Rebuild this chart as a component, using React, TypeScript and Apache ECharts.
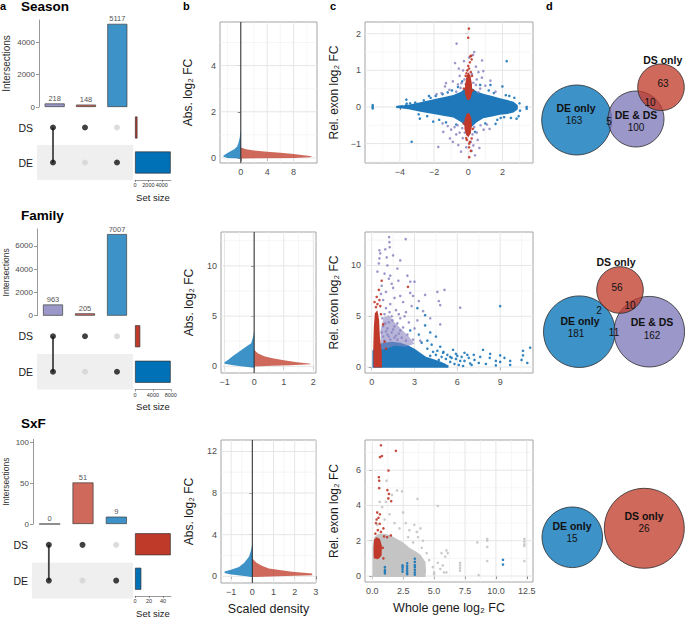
import React, { useEffect, useRef } from "react";
import * as echarts from "echarts";

/* ================= DATA ================= */
const intersectionNames = ["DE & DS", "DS only", "DE only"];
const setNames = ["DE", "DS"];
const inDE = [1, 0, 1];
const inDS = [1, 1, 0];

const seasonIntersections = [218, 148, 5117];
const familyIntersections = [963, 205, 7007];
const sxfIntersections = [0, 51, 9];

const seasonIntersectionTicks = [0, 2000, 4000];
const familyIntersectionTicks = [0, 2000, 4000, 6000];
const sxfIntersectionTicks = [0, 50, 100];
const seasonSetSizeTicks = [0, 2000, 4000];
const familySetSizeTicks = [0, 4000, 8000];
const sxfSetSizeTicks = [0, 20, 40];

/* density: abs log2 FC (y) and scaled density width (x) */
const seasonDensDE_y = [-0.03, 0.0, 0.05, 0.09, 0.18, 0.28, 0.38, 0.5, 0.7, 0.85, 1.0, 1.2];
const seasonDensDE_w = [0, 2.0, 2.6, 2.65, 2.2, 1.63, 1.0, 0.55, 0.3, 0.18, 0.1, 0];
const seasonDensDS_y = [-0.02, 0.0, 0.03, 0.07, 0.12, 0.17, 0.22, 0.27, 0.32, 0.38, 0.45];
const seasonDensDS_w = [0, 8, 10.5, 10.8, 9.5, 8, 6, 4, 2, 0.8, 0];
const familyDensDE_y = [-0.15, -0.05, 0.1, 0.25, 0.4, 0.7, 1.0, 1.5, 2.0, 2.3, 3.0, 3.6];
const familyDensDE_w = [0, 0.29, 0.71, 1.0, 1.0, 0.85, 0.73, 0.49, 0.25, 0.1, 0.03, 0];
const familyDensDS_y = [-0.02, 0.05, 0.12, 0.2, 0.27, 0.4, 0.6, 0.8, 1.0, 1.3, 1.65];
const familyDensDS_w = [0, 0.6, 1.22, 1.91, 1.91, 1.45, 1.0, 0.62, 0.34, 0.12, 0];
const sxfDensDE_y = [-0.07, 0.0, 0.1, 0.2, 0.3, 0.45, 0.6, 0.9, 1.3, 1.87, 2.5, 3.15];
const sxfDensDE_w = [0, 0.28, 0.67, 1.07, 1.31, 1.31, 1.05, 0.63, 0.38, 0.16, 0.06, 0];
const sxfDensDS_y = [-0.07, 0.0, 0.05, 0.1, 0.18, 0.26, 0.42, 0.74, 1.0, 1.3, 1.7];
const sxfDensDS_w = [0, 1.2, 2.0, 2.83, 2.83, 2.83, 1.88, 0.78, 0.45, 0.2, 0];

const seasonDensXTicks = [0, 4, 8];
const seasonDensXMinor = [-2, 2, 6, 10];
const seasonDensYTicks = [0, 2, 4];
const seasonDensYMinor = [1, 3, 5];
const familyDensXTicks = [-1, 0, 1, 2];
const familyDensXMinor = [-0.5, 0.5, 1.5];
const familyDensYTicks = [0, 5, 10];
const familyDensYMinor = [2.5, 7.5, 12.5];
const sxfDensXTicks = [-1, 0, 1, 2, 3];
const sxfDensXMinor = [-0.5, 0.5, 1.5, 2.5];
const sxfDensYTicks = [0, 4, 8, 12];
const sxfDensYMinor = [2, 6, 10];

/* scatter: whole gene log2 FC (x) vs rel. exon log2 FC (y) */
const seasonBlueCloud = [[-4.2, 0.02], [-3.5, 0.06], [-2.8, 0.13], [-1.95, 0.22], [-1.4, 0.27], [-0.87, 0.33], [-0.4, 0.42], [-0.1, 0.55], [0.2, 0.52], [0.5, 0.42], [0.88, 0.36], [1.4, 0.3], [1.86, 0.24], [2.3, 0.19], [2.65, 0.14], [2.9, 0.05], [2.9, -0.06], [2.65, -0.15], [2.3, -0.19], [1.86, -0.21], [1.4, -0.26], [0.88, -0.31], [0.5, -0.42], [0.2, -0.55], [-0.1, -0.57], [-0.4, -0.42], [-0.87, -0.29], [-1.4, -0.25], [-1.95, -0.2], [-2.8, -0.13], [-3.5, -0.06], [-4.2, -0.02]];
const seasonBlue = [[-5.59, 0.05], [-5.59, 0.0], [-5.59, -0.04], [-4.15, 0.0], [-4.05, 0.01], [-3.98, -0.01], [-3.9, 0.02], [-3.62, 0.2], [-3.6, 0.09], [-3.66, 0.04], [-3.31, -0.95], [-2.83, -0.32], [-3.1, 0.12], [-2.6, 0.18], [-2.4, -0.25], [-2.2, 0.25], [-1.9, 0.3], [-1.7, -0.35], [-2.05, -0.4], [-1.2, 0.4], [-1.3, -0.42], [-0.95, 0.45], [-0.7, -0.48], [1.2, 0.45], [1.5, 0.38], [1.7, -0.35], [2.0, 0.56], [2.25, 1.25], [2.2, 0.32], [2.5, -0.3], [2.83, -0.32], [3.0, 0.1], [3.03, -0.1], [3.42, 0.0], [3.42, -0.05], [2.7, 0.25], [1.0, -0.45], [0.7, 0.6], [-0.6, 0.55], [1.9, -0.3], [2.4, 0.3], [-2.9, -0.2], [-3.4, 0.1], [-2.5, 0.05], [2.95, -0.25], [1.3, 0.6], [-1.5, 0.35], [-2.3, 0.3], [0.4, -0.68], [-0.35, 0.7], [1.6, -0.46], [2.1, -0.28]];
const seasonPurple = [[-0.68, 1.73], [-0.77, 1.2], [0.81, 1.27], [0.35, 1.5], [0.28, 1.42], [0.88, 0.98], [-1.36, 0.56], [-1.56, 0.38], [-1.46, -0.68], [-1.75, -1.09], [-1.07, -0.86], [-0.58, -1.04], [0.4, -1.32], [0.3, -1.05], [-0.5, 0.85], [-0.3, 1.0], [-0.6, 0.62], [-0.9, 0.7], [0.5, 0.75], [0.6, 0.95], [0.22, 0.9], [-0.22, 0.75], [0.7, 0.5], [1.0, 0.58], [-1.1, 0.47], [-0.8, -0.55], [-0.5, -0.7], [-0.32, -0.85], [0.5, -0.7], [0.72, -0.5], [0.9, -0.62], [-1.2, -0.52], [1.1, -0.48], [0.2, -1.2], [-0.12, -1.1], [-0.9, -0.95], [-0.25, 1.25], [0.05, 1.35], [0.45, 0.6], [-0.45, 0.52], [0.15, -0.95], [-0.62, -0.5], [-0.4, 0.65], [-0.15, 0.62], [0.3, 0.66], [0.6, 0.4], [-0.7, 0.42], [0.35, -0.55], [-0.35, -0.58], [-0.2, -0.7], [0.25, -0.75], [0.55, -0.9], [-0.7, -0.75], [-1.0, -0.62], [1.3, 0.72], [-1.5, -0.45], [1.25, -0.6], [-1.3, 0.65], [0.8, 0.8], [-0.55, 1.05], [0.45, 1.1], [0.65, -1.12], [-0.42, -1.22], [-1.85, 0.35], [1.6, 0.42]];
const seasonRedUpperCloud = [[-0.1, 0.22], [-0.2, 0.38], [-0.18, 0.62], [-0.09, 0.85], [0.02, 0.95], [0.13, 0.85], [0.22, 0.62], [0.22, 0.38], [0.13, 0.22], [0.0, 0.18]];
const seasonRedLowerCloud = [[-0.1, -0.2], [-0.22, -0.35], [-0.22, -0.6], [-0.11, -0.78], [0.02, -0.82], [0.15, -0.72], [0.22, -0.5], [0.18, -0.3], [0.09, -0.19], [0.0, -0.16]];
const seasonRed = [[0.04, 2.14], [0.0, 1.89], [0.18, 1.4], [0.2, 1.3], [0.1, 1.22], [0.05, 1.05], [-0.05, 1.0], [0.15, 0.95], [0.0, 1.12], [-0.1, 0.92], [0.22, 0.85], [-0.08, -0.9], [0.1, -0.95], [0.06, -1.0], [0.05, -1.1], [0.06, -1.37], [-0.12, -0.85], [0.2, -0.86], [0.15, -1.2], [0.12, 1.38], [-0.15, 0.85], [-0.25, 0.5], [0.28, 0.45], [-0.26, -0.45], [0.27, -0.6]];

const familyBlueCloud = [[0.05, -0.08], [0.05, 1.6], [0.3, 2.1], [0.8, 2.4], [1.4, 2.5], [2.0, 2.4], [2.6, 2.1], [3.0, 1.8], [3.4, 1.4], [3.8, 1.0], [4.3, 0.8], [4.8, 0.55], [5.2, 0.3], [5.4, -0.08]];
const familyBlue = [[3.74, 4.1], [3.74, 5.1], [3.2, 5.8], [4.1, 3.4], [4.5, 3.0], [5.03, 1.5], [5.7, 1.7], [6.5, 1.4], [6.7, 1.2], [7.15, 1.2], [7.8, 1.7], [8.27, 0.9], [8.7, 0.6], [8.7, 0.16], [9.0, 6.0], [9.0, 1.15], [9.0, 0.5], [9.7, 0.6], [9.7, 0.2], [10.6, 1.6], [10.6, 1.15], [10.5, 0.7], [6.3, 1.0], [6.8, 0.9], [7.2, 0.7], [7.5, 0.4], [8.0, 0.3], [6.5, 0.6], [4.8, 2.0], [5.3, 1.2], [3.9, 2.6], [3.3, 3.2], [2.7, 3.6], [4.2, 2.2], [5.5, 1.0], [7.0, 0.2], [8.3, 1.3], [9.3, 0.9], [10.9, 0.4], [6.0, 1.1], [5.9, 0.8], [7.6, 1.0], [4.6, 1.6], [3.5, 2.4], [11.1, 1.9], [6.9, 0.35], [4.5, 1.2], [4.9, 1.0], [5.2, 0.8], [5.5, 0.5], [5.8, 0.3], [6.1, 0.2], [5.6, 0.9], [6.2, 0.6], [4.7, 0.7], [5.0, 1.4], [4.3, 1.5], [3.9, 1.8], [6.4, 0.1], [5.9, 1.3], [5.3, 0.1], [4.1, 1.1]];
const familyPurpleCloud = [[0.65, 1.7], [0.62, 3.6], [0.85, 4.9], [1.2, 5.1], [1.6, 4.4], [2.1, 3.7], [2.6, 3.0], [3.0, 2.3], [2.4, 2.0], [1.6, 2.1], [1.0, 1.8]];
const familyPurple = [[1.22, 12.8], [1.24, 12.3], [1.26, 11.8], [0.54, 11.5], [0.6, 11.2], [0.54, 10.7], [2.38, 12.6], [0.4, 9.4], [1.1, 10.0], [1.8, 9.7], [1.2, 8.7], [1.87, 8.5], [2.7, 8.4], [3.0, 8.4], [2.7, 7.3], [3.74, 7.1], [4.6, 7.4], [5.1, 7.6], [4.7, 6.5], [4.8, 6.1], [6.2, 5.85], [2.9, 7.0], [2.8, 6.0], [0.9, 9.2], [1.3, 9.0], [0.7, 8.0], [1.5, 7.8], [1.0, 7.4], [2.0, 7.0], [1.6, 6.8], [0.8, 6.6], [1.3, 6.2], [2.2, 6.4], [1.0, 5.8], [1.7, 5.6], [2.4, 5.4], [0.9, 5.2], [1.4, 5.0], [2.0, 4.8], [3.2, 4.6], [2.6, 4.4], [1.2, 4.4], [0.8, 4.0], [1.6, 4.0], [2.2, 3.9], [3.0, 3.8], [1.0, 3.5], [1.4, 3.4], [1.9, 3.3], [2.5, 3.2], [0.8, 3.0], [1.2, 3.0], [1.6, 2.9], [2.1, 2.9], [2.9, 2.7], [3.4, 2.6], [0.9, 2.6], [1.3, 2.7], [1.8, 2.7], [2.4, 2.6], [1.1, 3.8], [1.8, 4.3], [0.7, 3.4], [2.3, 5.0], [3.6, 5.5], [4.1, 4.8], [4.8, 4.2], [2.0, 10.5], [0.5, 10.2], [1.5, 11.0], [0.95, 11.6], [1.05, 10.8], [1.4, 8.2], [0.65, 7.2], [2.5, 9.0], [3.3, 6.5], [1.9, 5.2], [0.75, 4.8], [1.25, 5.4], [1.5, 3.7], [2.0, 3.6], [1.1, 3.2], [1.7, 3.1], [0.95, 4.3], [1.45, 4.6]];
const familyRedCloud = [[0.13, -0.05], [0.11, 2.0], [0.15, 4.0], [0.22, 5.3], [0.4, 5.6], [0.52, 4.6], [0.57, 3.0], [0.7, 1.5], [0.72, -0.05]];
const familyRed = [[0.54, 6.6], [0.7, 8.5], [0.5, 7.6], [2.54, 7.9], [0.4, 6.2], [0.3, 5.9], [0.6, 6.0], [0.35, 6.9], [0.8, 4.2], [0.9, 2.5], [1.0, 1.8], [0.2, 6.4], [0.65, 5.2]];

const sxfGreyCloud = [[0.02, -0.05], [0.02, 1.7], [0.15, 2.2], [0.5, 2.4], [1.0, 2.4], [1.5, 2.3], [2.0, 2.1], [2.5, 1.9], [3.0, 1.6], [3.5, 1.4], [3.9, 1.2], [4.3, 0.8], [4.35, 0.3], [4.3, -0.05]];
const sxfGrey = [[2.0, 4.85], [3.66, 4.37], [5.3, 3.97], [9.3, 2.1], [9.3, 2.0], [9.3, 1.65], [9.3, 0.85], [12.3, 2.1], [12.3, 1.95], [12.3, 1.8], [12.3, 1.7], [12.3, 0.85], [8.5, 1.9], [8.6, 0.05], [7.1, 0.6], [7.1, 0.45], [7.1, 0.3], [7.1, 0.75], [6.0, 1.45], [5.9, 1.1], [6.1, 1.3], [5.7, 0.6], [5.8, 0.2], [5.0, 0.1], [5.0, 0.2], [4.1, 2.0], [3.7, 2.2], [3.6, 2.5], [2.5, 3.6], [2.4, 4.8], [1.6, 4.6], [1.1, 4.2], [3.4, 2.9], [3.0, 2.6], [2.7, 3.0], [4.0, 1.6], [4.6, 0.9], [4.9, 0.5], [5.5, 0.4], [6.0, 0.2], [1.0, 3.2], [1.8, 3.0], [0.8, 3.9], [0.4, 2.9], [2.2, 2.7], [3.9, 2.7], [5.6, 1.3], [5.3, 0.75], [0.6, 4.2], [1.4, 3.5], [1.15, 5.4], [2.9, 2.2], [3.3, 1.9], [4.4, 1.3]];
const sxfRedCloud = [[0.12, 1.0], [0.1, 1.5], [0.14, 2.05], [0.35, 2.2], [0.62, 2.1], [0.78, 1.7], [0.75, 1.15], [0.45, 0.95]];
const sxfRed = [[0.7, 7.41], [0.78, 6.8], [0.62, 6.74], [1.91, 7.1], [1.31, 5.98], [0.53, 5.6], [0.56, 5.4], [0.56, 4.98], [1.22, 4.87], [1.35, 4.65], [1.53, 4.24], [1.3, 4.4], [0.4, 3.6], [0.62, 3.5], [0.35, 3.2], [0.6, 2.96], [0.9, 2.7], [0.7, 2.5], [1.2, 2.2], [1.5, 2.3], [0.53, 1.1], [0.9, 1.0], [0.3, 3.0], [0.45, 2.6], [0.95, 2.25], [0.25, 2.4], [0.85, 1.6], [0.5, 3.3]];
const sxfBlue = [[1.02, 0.15], [1.02, 0.25], [1.02, 0.35], [1.02, 0.5], [2.45, 0.25], [2.45, 0.38], [2.45, 0.5], [2.45, 0.6], [2.82, 0.1], [2.82, 0.2], [2.82, 0.32], [2.82, 0.45], [2.82, 0.58], [2.82, 0.72], [3.44, 0.08], [3.44, 0.2], [3.44, 0.35], [3.44, 0.5], [3.44, 0.62], [3.44, 0.8], [3.44, 0.98], [10.57, 0.65], [10.57, 0.92]];

const seasonScatXTicks = [-4, -2, 0, 2];
const seasonScatXMinor = [-5, -3, -1, 1, 3];
const seasonScatYTicks = [-1, 0, 1, 2];
const seasonScatYMinor = [-1.5, -0.5, 0.5, 1.5];
const familyScatXTicks = [0, 3, 6, 9];
const familyScatXMinor = [1.5, 4.5, 7.5, 10.5];
const familyScatYTicks = [0, 5, 10];
const familyScatYMinor = [2.5, 7.5, 12.5];
const sxfScatXTicks = [0, 2.5, 5, 7.5, 10, 12.5];
const sxfScatXMinor = [1.25, 3.75, 6.25, 8.75, 11.25];
const sxfScatYTicks = [0, 2, 4, 6];
const sxfScatYMinor = [1, 3, 5, 7];

/* Venn counts */
const vennNames = ["DE only", "DE & DS", "DS only"];
const seasonVennCounts = [163, 100, 63, 5, 10];
const familyVennCounts = [181, 162, 56, 11, 10, 2];
const sxfVennCounts = [15, 26];

/* ================= LAYOUT / STYLE ================= */
const FONT = "'Liberation Sans', Arial, Helvetica, sans-serif";
const BLUE = "#0070b7";
const RED = "#bf3a28";
const BLUE_A = "rgba(0,112,183,0.76)";
const RED_A = "rgba(191,58,40,0.76)";
const PURPLE_A = "rgba(124,118,184,0.76)";
const barColors = [PURPLE_A, RED_A, BLUE_A];

const plain = (v: number) => String(v);
const minus = (v: number) => (v < 0 ? "\u2212" + Math.abs(v) : String(v));
const oneDec = (v: number) => v.toFixed(1);

function buildOption() {
  const grid: any[] = [];
  const xAxis: any[] = [];
  const yAxis: any[] = [];
  const series: any[] = [];
  const graphic: any[] = [];

  const addCS = (g: any, xa: any, ya: any) => {
    grid.push({ containLabel: false, ...g });
    const gi = grid.length - 1;
    xAxis.push({ gridIndex: gi, ...xa });
    yAxis.push({ gridIndex: gi, ...ya });
    return { xAxisIndex: xAxis.length - 1, yAxisIndex: yAxis.length - 1 };
  };

  const valAx = (min: number, max: number, ticks: number[], fmt: any, extra: any = {}) => ({
    type: "value",
    min,
    max,
    axisLine: { show: false },
    axisTick: { show: true, length: 3, customValues: ticks, lineStyle: { color: "#333", width: 0.8 } },
    axisLabel: { customValues: ticks, fontSize: 9, color: "#4d4d4d", margin: 4, formatter: fmt, hideOverlap: false },
    splitLine: { show: false },
    ...extra,
  });

  const gridLines = (cs: any, xMaj: number[], xMin: number[], yMaj: number[], yMin: number[]) => ({
    type: "custom",
    ...cs,
    data: [[0, 0]],
    silent: true,
    z: 1,
    renderItem: (params: any, api: any) => {
      const c = params.coordSys;
      const children: any[] = [];
      const v = (val: number, major: boolean) => {
        const px = api.coord([val, 0])[0];
        children.push({ type: "line", shape: { x1: px, y1: c.y, x2: px, y2: c.y + c.height }, style: { stroke: major ? "#e6e6e6" : "#f0f0f0", lineWidth: major ? 1 : 0.6 } });
      };
      const h = (val: number, major: boolean) => {
        const py = api.coord([0, val])[1];
        children.push({ type: "line", shape: { x1: c.x, y1: py, x2: c.x + c.width, y2: py }, style: { stroke: major ? "#e6e6e6" : "#f0f0f0", lineWidth: major ? 1 : 0.6 } });
      };
      xMin.forEach((x) => v(x, false));
      yMin.forEach((y) => h(y, false));
      xMaj.forEach((x) => v(x, true));
      yMaj.forEach((y) => h(y, true));
      return { type: "group", children };
    },
  });

  const poly = (cs: any, pts: number[][], color: string, z = 2) => ({
    type: "custom",
    ...cs,
    data: [pts[0]],
    clip: true,
    silent: true,
    z,
    renderItem: (_p: any, api: any) => ({
      type: "polygon",
      shape: { points: pts.map((p) => api.coord(p)) },
      style: { fill: color },
    }),
  });

  const pts = (cs: any, data: number[][], color: string, opacity: number, z = 3) => ({
    type: "scatter",
    ...cs,
    data,
    symbol: "circle",
    symbolSize: 2.6,
    itemStyle: { color, opacity },
    silent: true,
    z,
  });

  const zeroLine = (cs: any) => ({
    type: "custom",
    ...cs,
    data: [[0, 0]],
    silent: true,
    z: 4,
    renderItem: (params: any, api: any) => {
      const c = params.coordSys;
      const px = api.coord([0, 0])[0];
      return { type: "line", shape: { x1: px, y1: c.y, x2: px, y2: c.y + c.height }, style: { stroke: "#2a2a2a", lineWidth: 1 } };
    },
  });

  const densPoly = (ys: number[], ws: number[], sign: number) => [
    ...ys.map((y, i) => [sign * ws[i], y]),
    [0, ys[ys.length - 1]],
    [0, ys[0]],
  ];

  /* ---------- panel a: UpSet ---------- */
  const addUpset = (L: any, values: number[], ticks: number[], setTicks: number[]) => {
    const bar = addCS(
      { left: L.left, top: L.barTop, width: L.width, height: L.barH },
      { type: "category", data: intersectionNames, show: false },
      {
        type: "value",
        min: 0,
        max: L.yMax,
        axisLine: { show: true, lineStyle: { color: "#8c8c8c", width: 0.9 } },
        axisTick: { show: true, length: 3, customValues: ticks, lineStyle: { color: "#8c8c8c", width: 0.9 } },
        axisLabel: { customValues: ticks, fontSize: 8, color: "#4d4d4d", margin: 4, formatter: plain, hideOverlap: false },
        splitLine: { show: false },
        name: "Intersections",
        nameLocation: "middle",
        nameGap: L.nameGap,
        nameTextStyle: { fontSize: L.nameSize, color: "#333" },
      }
    );
    series.push({
      type: "bar",
      ...bar,
      barWidth: L.barW,
      data: values.map((v, i) => ({ value: v, itemStyle: { color: barColors[i] } })),
      itemStyle: { borderColor: "#3d3d3d", borderWidth: 0.7 },
      label: { show: true, position: "top", distance: 1, fontSize: 7.5, color: "#555" },
      silent: true,
    });

    const mat = addCS(
      { left: L.left, top: L.matTop, width: L.width, height: L.matH },
      { type: "category", data: intersectionNames, show: false },
      {
        type: "category",
        data: setNames,
        axisLine: { show: false },
        axisTick: { show: false },
        axisLabel: { fontSize: 10.5, color: "#1a1a1a", margin: 4 },
        splitLine: { show: false },
      }
    );
    series.push({
      type: "custom",
      ...mat,
      data: [[0, 0]],
      silent: true,
      z: 1,
      renderItem: (params: any, api: any) => {
        const c = params.coordSys;
        const cy = api.coord([0, 0])[1];
        const h = api.size([0, 1])[1];
        return { type: "rect", shape: { x: c.x, y: cy - h / 2, width: c.width, height: h }, style: { fill: "#efefef" } };
      },
    });
    values.forEach((_, i) => {
      if (inDE[i] && inDS[i]) {
        series.push({
          type: "line",
          ...mat,
          data: [[i, 0], [i, 1]],
          symbol: "none",
          lineStyle: { color: "#444", width: 1.8 },
          silent: true,
          z: 2,
        });
      }
    });
    const dots: any[] = [];
    values.forEach((_, i) => {
      dots.push({ value: [i, 0], itemStyle: { color: inDE[i] ? "#111" : "#d3d3d3" } });
      dots.push({ value: [i, 1], itemStyle: { color: inDS[i] ? "#111" : "#d3d3d3" } });
    });
    series.push({ type: "scatter", ...mat, data: dots, symbolSize: 6, silent: true, z: 3 });

    const deSize = values.reduce((s, v, i) => s + (inDE[i] ? v : 0), 0);
    const dsSize = values.reduce((s, v, i) => s + (inDS[i] ? v : 0), 0);
    const ss = addCS(
      { left: 135, top: L.matTop, width: 36, height: L.matH },
      {
        type: "value",
        min: 0,
        max: L.setMax,
        axisLine: { show: true, lineStyle: { color: "#555", width: 0.6 } },
        axisTick: { show: true, length: 2, customValues: setTicks, lineStyle: { color: "#555", width: 0.6 } },
        axisLabel: { customValues: setTicks, fontSize: 5.5, color: "#333", margin: 2, formatter: plain, hideOverlap: false },
        splitLine: { show: false },
        name: "Set size",
        nameLocation: "middle",
        nameGap: 12,
        nameTextStyle: { fontSize: 9.5, color: "#1a1a1a" },
      },
      { type: "category", data: setNames, show: false }
    );
    series.push({
      type: "bar",
      ...ss,
      barWidth: 22,
      data: [
        { value: deSize, itemStyle: { color: BLUE } },
        { value: dsSize, itemStyle: { color: RED } },
      ],
      itemStyle: { borderColor: "#333", borderWidth: 0.7 },
      silent: true,
    });
  };

  addUpset({ left: 37, width: 96, barTop: 20, barH: 87, yMax: 5354, matTop: 110, matH: 70, setMax: 5380, nameSize: 10, nameGap: 28, barW: 20 }, seasonIntersections, seasonIntersectionTicks, seasonSetSizeTicks);
  addUpset({ left: 37, width: 96, barTop: 229, barH: 86.7, yMax: 7442, matTop: 318.5, matH: 71, setMax: 8040, nameSize: 8.5, nameGap: 27, barW: 20 }, familyIntersections, familyIntersectionTicks, familySetSizeTicks);
  addUpset({ left: 32, width: 101, barTop: 439.3, barH: 84.7, yMax: 104, matTop: 527, matH: 71.4, setMax: 51.4, nameSize: 8.5, nameGap: 23, barW: 21 }, sxfIntersections, sxfIntersectionTicks, sxfSetSizeTicks);

  /* ---------- panel b: density ---------- */
  const panelGrid = (left: number, top: number, width: number, height: number) => ({
    left, top, width, height, show: true, borderColor: "#a3a3a3", borderWidth: 1, backgroundColor: "#ffffff",
  });
  const yName = (name: string, gap: number) => ({
    name, nameLocation: "middle", nameGap: gap, nameTextStyle: { fontSize: 12, color: "#1a1a1a" },
  });
  const xName = (name: string, gap: number) => ({
    name, nameLocation: "middle", nameGap: gap, nameTextStyle: { fontSize: 12.5, color: "#1a1a1a" },
  });

  const addDensity = (g: any, xr: number[], yr: number[], xT: number[], xM: number[], yT: number[], yM: number[], de: number[][], ds: number[][], withXName: boolean) => {
    const cs = addCS(
      panelGrid(g[0], g[1], g[2], g[3]),
      valAx(xr[0], xr[1], xT, minus, withXName ? xName("Scaled density", 19) : {}),
      valAx(yr[0], yr[1], yT, minus, yName("Abs. log\u2082 FC", 26))
    );
    series.push(gridLines(cs, xT, xM, yT, yM));
    series.push(poly(cs, densPoly(de[0], de[1], -1), BLUE_A, 2));
    series.push(poly(cs, densPoly(ds[0], ds[1], 1), RED_A, 2));
    series.push(zeroLine(cs));
  };
  addDensity([220, 22, 97, 141], [-3.15, 11.55], [-0.22, 5.89], seasonDensXTicks, seasonDensXMinor, seasonDensYTicks, seasonDensYMinor, [seasonDensDE_y, seasonDensDE_w], [seasonDensDS_y, seasonDensDS_w], false);
  addDensity([221, 232, 95, 141], [-1.12, 2.09], [-0.66, 13.37], familyDensXTicks, familyDensXMinor, familyDensYTicks, familyDensYMinor, [familyDensDE_y, familyDensDE_w], [familyDensDS_y, familyDensDS_w], false);
  addDensity([221, 440, 95, 143], [-1.48, 3.01], [-0.65, 13.1], sxfDensXTicks, sxfDensXMinor, sxfDensYTicks, sxfDensYMinor, [sxfDensDE_y, sxfDensDE_w], [sxfDensDS_y, sxfDensDS_w], true);

  /* ---------- panel c: scatter ---------- */
  const BLUE_PT = "#1f78b9";
  const PURPLE_PT = "#8a85c2";
  const RED_PT = "#c0392b";
  const GREY_PT = "#c4c4c4";

  const s1 = addCS(panelGrid(365, 22, 168, 141), valAx(-6.04, 3.79, seasonScatXTicks, minus), valAx(-1.53, 2.32, seasonScatYTicks, minus, yName("Rel. exon log\u2082 FC", 25)));
  series.push(gridLines(s1, seasonScatXTicks, seasonScatXMinor, seasonScatYTicks, seasonScatYMinor));
  series.push(poly(s1, seasonBlueCloud, BLUE_PT, 2));
  series.push(pts(s1, seasonBlue, BLUE_PT, 0.9, 3));
  series.push(pts(s1, seasonPurple, PURPLE_PT, 0.85, 4));
  series.push(poly(s1, seasonRedUpperCloud, RED_PT, 5));
  series.push(poly(s1, seasonRedLowerCloud, RED_PT, 5));
  series.push(pts(s1, seasonRed, RED_PT, 0.9, 6));

  const s2 = addCS(panelGrid(365, 232, 168, 141), valAx(-0.47, 11.3, familyScatXTicks, minus), valAx(-0.59, 13.3, familyScatYTicks, minus, yName("Rel. exon log\u2082 FC", 25)));
  series.push(gridLines(s2, familyScatXTicks, familyScatXMinor, familyScatYTicks, familyScatYMinor));
  series.push(poly(s2, familyBlueCloud, BLUE_PT, 2));
  series.push(pts(s2, familyBlue, BLUE_PT, 0.9, 3));
  series.push(poly(s2, familyPurpleCloud, "rgba(138,133,194,0.6)", 4));
  series.push(pts(s2, familyPurple, PURPLE_PT, 0.85, 4));
  series.push(poly(s2, familyRedCloud, RED_PT, 5));
  series.push(pts(s2, familyRed, RED_PT, 0.9, 6));

  const s3 = addCS(panelGrid(365, 440, 168, 142), valAx(-0.59, 13.0, sxfScatXTicks, oneDec, xName("Whole gene log\u2082 FC", 19)), valAx(-0.34, 7.71, sxfScatYTicks, minus, yName("Rel. exon log\u2082 FC", 25)));
  series.push(gridLines(s3, sxfScatXTicks, sxfScatXMinor, sxfScatYTicks, sxfScatYMinor));
  series.push(poly(s3, sxfGreyCloud, GREY_PT, 2));
  series.push(pts(s3, sxfGrey, GREY_PT, 0.9, 3));
  series.push(poly(s3, sxfRedCloud, RED_PT, 4));
  series.push(pts(s3, sxfRed, RED_PT, 0.9, 5));
  series.push(pts(s3, sxfBlue, BLUE_PT, 0.95, 6));

  /* ---------- panel d: Venn (identity pixel coordinates) ---------- */
  const v = addCS(
    { left: 535, top: 0, width: 150, height: 619 },
    { type: "value", min: 535, max: 685, show: false, splitLine: { show: false } },
    { type: "value", min: 0, max: 619, inverse: true, show: false, splitLine: { show: false } }
  );
  const vennCircles = [
    [576.7, 120, 35, BLUE_A], [636, 119, 28, PURPLE_A], [661, 87.3, 23.3, RED_A],
    [579.3, 331.7, 35.8, BLUE_A], [649.3, 331.7, 35.3, PURPLE_A], [620, 290, 23.3, RED_A],
    [572.3, 537.3, 30.3, BLUE_A], [644.3, 528.3, 40, RED_A],
  ];
  series.push({
    type: "custom",
    ...v,
    data: vennCircles.map((c) => [c[0], c[1]]),
    silent: true,
    z: 2,
    renderItem: (params: any, api: any) => {
      const c: any = vennCircles[params.dataIndex];
      const p = api.coord([c[0], c[1]]);
      const r = api.size([c[2], 0])[0];
      return { type: "circle", shape: { cx: p[0], cy: p[1], r }, style: { fill: c[3], stroke: "#2b2b2b", lineWidth: 0.8 } };
    },
  });
  const vennTexts: any[] = [];
  const nameAt = (idx: number, x: number, y: number) => vennTexts.push([x, y, vennNames[idx], 1]);
  const countAt = (val: number, x: number, y: number) => vennTexts.push([x, y, String(val), 0]);
  nameAt(0, 576, 108); nameAt(1, 636, 115); nameAt(2, 662.7, 60);
  const sPos = [[574, 120.5], [636, 127.5], [663, 83], [609, 121], [650, 102]];
  seasonVennCounts.forEach((c, i) => countAt(c, sPos[i][0], sPos[i][1]));
  nameAt(0, 580, 320.5); nameAt(1, 652, 322); nameAt(2, 616, 262);
  const fPos = [[576, 333], [652, 335], [617, 287], [614, 332], [630, 305], [599, 310]];
  familyVennCounts.forEach((c, i) => countAt(c, fPos[i][0], fPos[i][1]));
  nameAt(0, 572, 525.5); nameAt(2, 644, 516);
  const xPos = [[572, 538], [644, 528.5]];
  sxfVennCounts.forEach((c, i) => countAt(c, xPos[i][0], xPos[i][1]));
  series.push({
    type: "custom",
    ...v,
    data: vennTexts.map((t) => [t[0], t[1]]),
    silent: true,
    z: 5,
    renderItem: (params: any, api: any) => {
      const t = vennTexts[params.dataIndex];
      const p = api.coord([t[0], t[1]]);
      return {
        type: "text",
        x: p[0],
        y: p[1],
        style: {
          text: t[2],
          fill: "#111",
          fontSize: t[3] ? 10.5 : 10,
          fontWeight: t[3] ? "bold" : "normal",
          fontFamily: FONT,
          align: "center",
          verticalAlign: "middle",
          textAlign: "center",
          textVerticalAlign: "middle",
        },
      };
    },
  });

  /* ---------- titles ---------- */
  const txt = (text: string, x: number, y: number, size: number) => ({
    type: "text",
    x,
    y,
    style: { text, fill: "#000", fontSize: size, fontWeight: "bold", fontFamily: FONT, verticalAlign: "middle", textVerticalAlign: "middle" },
  });
  graphic.push(txt("a", 0, 6, 11));
  graphic.push(txt("Season", 21, 6, 13.5));
  graphic.push(txt("b", 183, 6, 11));
  graphic.push(txt("c", 330, 6, 11));
  graphic.push(txt("d", 546, 6, 11));
  graphic.push(txt("Family", 21, 215, 13.5));
  graphic.push(txt("SxF", 21, 423, 13.5));

  return {
    animation: false,
    backgroundColor: "#ffffff",
    textStyle: { fontFamily: FONT },
    grid,
    xAxis,
    yAxis,
    series,
    graphic,
  };
}

export default function App() {
  const ref = useRef<HTMLDivElement>(null);
  useEffect(() => {
    if (!ref.current) return;
    const chart = echarts.init(ref.current, null, { renderer: "svg" });
    chart.setOption(buildOption() as any);
    return () => chart.dispose();
  }, []);
  return (
    <div
      ref={ref}
      style={{ position: "absolute", left: 0, top: 0, width: 685, height: 619, background: "#ffffff" }}
    />
  );
}
